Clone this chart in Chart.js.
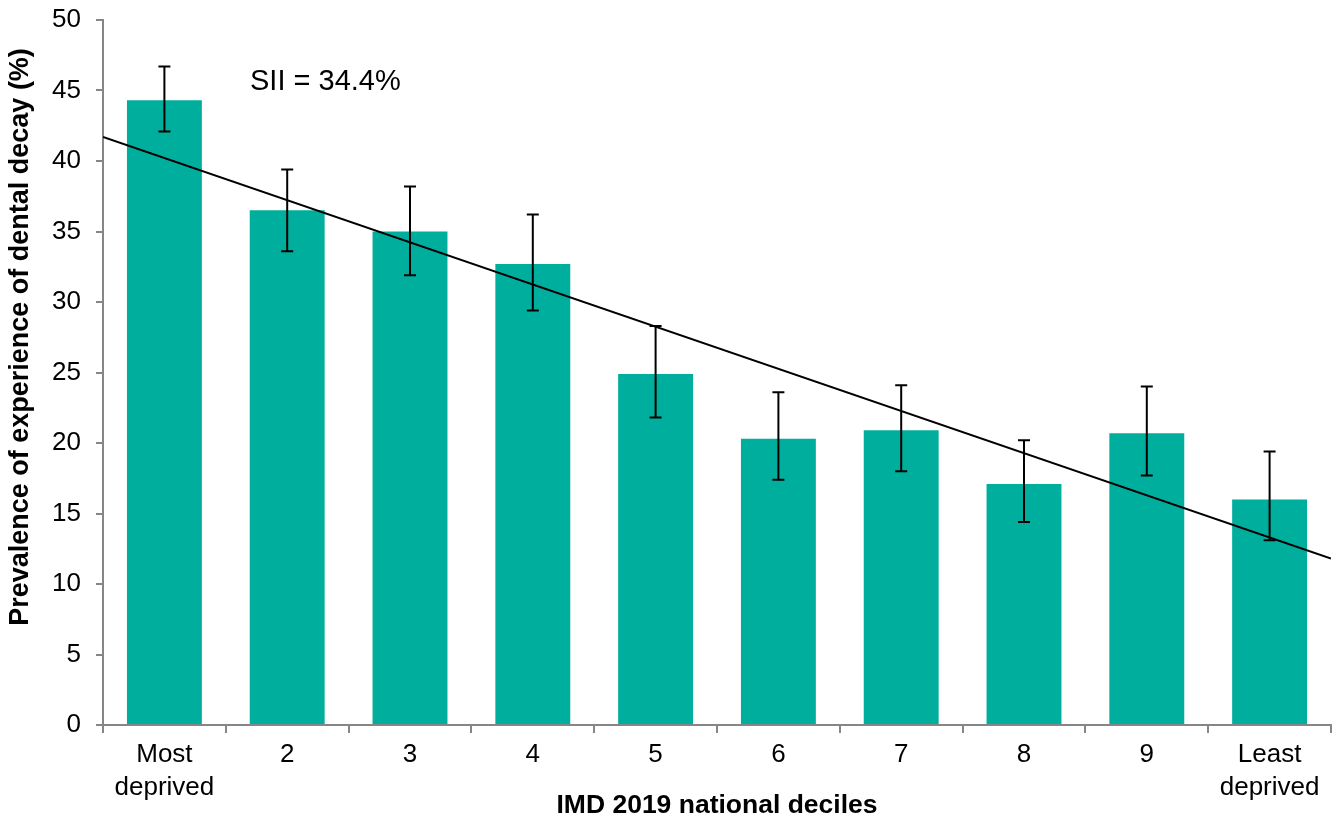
<!DOCTYPE html>
<html>
<head>
<meta charset="utf-8">
<title>Dental decay by IMD decile</title>
<script src="https://cdn.jsdelivr.net/npm/chart.js@4.4.1/dist/chart.umd.min.js"></script>
<style>
  html, body { margin: 0; padding: 0; background: #fff; }
  #wrap { width: 1341px; height: 818px; }
</style>
</head>
<body>
<div id="wrap"><canvas id="decayChart"></canvas></div>
<script>
// Values
const deciles = [['Most', 'deprived'], '2', '3', '4', '5', '6', '7', '8', '9', ['Least', 'deprived']];
const prevalence = [44.3, 36.5, 35.0, 32.7, 24.9, 20.3, 20.9, 17.1, 20.7, 16.0];
const ciLower = [42.1, 33.6, 31.9, 29.4, 21.8, 17.4, 18.0, 14.4, 17.7, 13.1];
const ciUpper = [46.7, 39.4, 38.2, 36.2, 28.3, 23.6, 24.1, 20.2, 24.0, 19.4];
const trendX = [0, 10];
const trendY = [41.7, 11.8];
const siiLabel = 'SII = 34.4%';

const FONT = "'Liberation Sans', Arial, sans-serif";
const AXIS_GREY = '#868686';
const BAR_TEAL = '#00ae9d';

/**
 * Error bars with caps, drawn from the CI arrays
 */
const errorBars = {
  id: 'errorBars',
  afterDatasetsDraw(chart) {
    const meta = chart.getDatasetMeta(0);
    const y = chart.scales.y;
    const ctx = chart.ctx;
    ctx.save();
    ctx.strokeStyle = '#000';
    ctx.lineWidth = 2;
    meta.data.forEach((bar, i) => {
      const top = y.getPixelForValue(ciUpper[i]);
      const bottom = y.getPixelForValue(ciLower[i]);
      ctx.beginPath();
      ctx.moveTo(bar.x, top);
      ctx.lineTo(bar.x, bottom);
      ctx.moveTo(bar.x - 6, top);
      ctx.lineTo(bar.x + 6, top);
      ctx.moveTo(bar.x - 6, bottom);
      ctx.lineTo(bar.x + 6, bottom);
      ctx.stroke();
    });
    ctx.restore();
  }
};

/**
 * Y axis title and SII annotation
 */
const extraText = {
  id: 'extraText',
  afterDraw(chart) {
    const ctx = chart.ctx;
    const area = chart.chartArea;
    ctx.save();
    ctx.fillStyle = '#000';

    ctx.save();
    ctx.font = 'bold 27px ' + FONT;
    ctx.textAlign = 'center';
    ctx.textBaseline = 'middle';
    ctx.translate(21, 337);
    ctx.rotate(-Math.PI / 2);
    ctx.fillText('Prevalence of experience of dental decay (%)', 0, 0);
    ctx.restore();

    ctx.font = '29px ' + FONT;
    ctx.textAlign = 'left';
    ctx.textBaseline = 'middle';
    ctx.fillText(siiLabel, area.left + 147, chart.scales.y.getPixelForValue(45.6));
    ctx.restore();
  }
};

new Chart(document.getElementById('decayChart'), {
  type: 'bar',
  data: {
    labels: deciles,
    datasets: [
      {
        label: 'Prevalence',
        data: prevalence,
        backgroundColor: BAR_TEAL,
        borderWidth: 0,
        barPercentage: 0.61,
        categoryPercentage: 1,
        grouped: false,
        order: 2
      },
      {
        type: 'line',
        label: 'Trend',
        xAxisID: 'xTrend',
        data: trendX.map((x, i) => ({ x: x, y: trendY[i] })),
        borderColor: '#000',
        borderWidth: 2,
        pointRadius: 0,
        fill: false,
        order: 1
      }
    ]
  },
  options: {
    responsive: true,
    maintainAspectRatio: false,
    animation: false,
    layout: { padding: { top: 20, right: 10, bottom: 0, left: 0 } },
    plugins: {
      legend: { display: false },
      tooltip: { enabled: false }
    },
    scales: {
      x: {
        offset: true,
        grid: {
          offset: true,
          drawOnChartArea: false,
          tickLength: 8,
          color: AXIS_GREY,
          lineWidth: 2
        },
        border: { color: AXIS_GREY, width: 2 },
        ticks: {
          color: '#000',
          font: { family: FONT, size: 26, lineHeight: 1.25 },
          padding: 6,
          maxRotation: 0,
          autoSkip: false
        },
        title: {
          display: true,
          text: 'IMD 2019 national deciles',
          color: '#000',
          font: { family: FONT, size: 26.5, weight: 'bold' },
          padding: { top: 0, bottom: -4 }
        },
        afterFit(scale) {
          scale.height = 93;
          scale.paddingLeft = 0;
          scale.paddingRight = 0;
        }
      },
      xTrend: {
        type: 'linear',
        display: false,
        offset: false,
        min: 0,
        max: 10
      },
      y: {
        min: 0,
        max: 50,
        grid: {
          drawOnChartArea: false,
          tickLength: 7,
          color: AXIS_GREY,
          lineWidth: 2
        },
        border: { color: AXIS_GREY, width: 2 },
        ticks: {
          stepSize: 5,
          color: '#000',
          font: { family: FONT, size: 26 },
          padding: 15
        },
        afterFit(scale) {
          scale.width = 103;
          scale.paddingTop = 0;
          scale.paddingBottom = 0;
        }
      }
    }
  },
  plugins: [errorBars, extraText]
});
</script>
</body>
</html>
